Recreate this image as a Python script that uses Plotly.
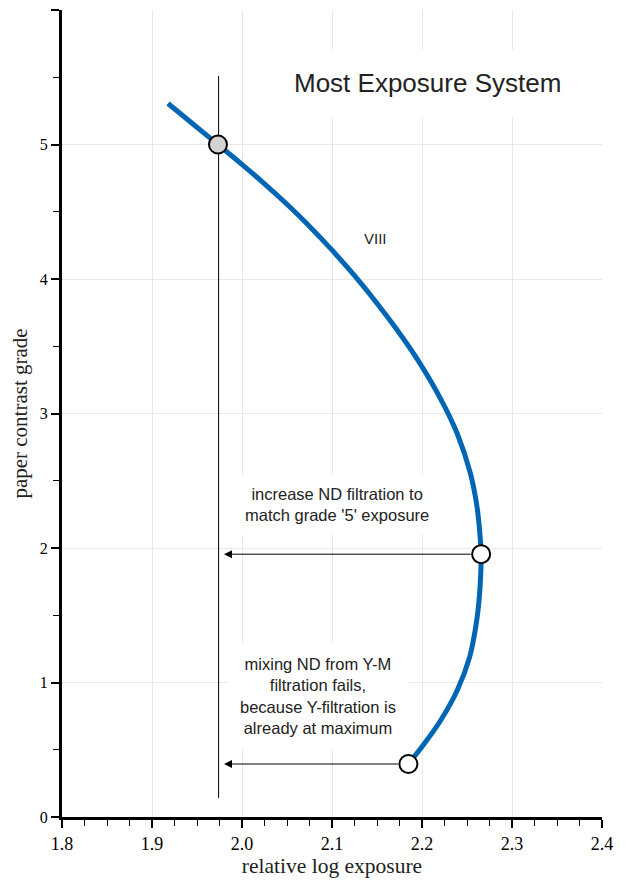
import plotly.graph_objects as go

# ---- data ----
curve_x = [1.9178, 1.9462, 1.9733, 2.0002, 2.0247, 2.0479, 2.0719, 2.0993, 2.1267, 2.1510,
           2.1718, 2.1956, 2.2198, 2.2390, 2.2537, 2.2612, 2.2649, 2.2657,
           2.2652, 2.2634, 2.2600, 2.2529, 2.2393, 2.2210, 2.2031, 2.1849]
curve_y = [5.305, 5.149, 5.000, 4.851, 4.710, 4.569, 4.413, 4.220, 4.012, 3.811,
           3.626, 3.395, 3.120, 2.853, 2.556, 2.303, 2.058, 1.954,
           1.798, 1.612, 1.426, 1.189, 0.944, 0.721, 0.550, 0.394]

ref_line_x = [1.974, 1.974]
ref_line_y = [0.14, 5.51]

grade5_point = (1.9733, 5.0)
open_points_x = [2.2657, 2.1849]
open_points_y = [1.954, 0.394]
arrow_tip_x = 1.98

x_ticks = [1.8, 1.9, 2.0, 2.1, 2.2, 2.3, 2.4]
x_tick_text = ["1.8", "1.9", "2.0", "2.1", "2.2", "2.3", "2.4"]
y_ticks = [0, 1, 2, 3, 4, 5, 6]
y_tick_text = ["0", "1", "2", "3", "4", "5", ""]

title_text = "Most Exposure System"
curve_label = "VIII"
note1 = "increase ND filtration to<br>match grade '5' exposure"
note2 = "mixing ND from Y-M<br>filtration fails,<br>because Y-filtration is<br>already at maximum"

fig = go.Figure()

fig.add_trace(go.Scatter(x=ref_line_x, y=ref_line_y, mode="lines",
                         line=dict(color="black", width=1), hoverinfo="skip", showlegend=False))
fig.add_trace(go.Scatter(x=curve_x, y=curve_y, mode="lines",
                         line=dict(color="#0066b3", width=5, shape="spline", smoothing=1.0),
                         showlegend=False))

# arrows
for ox, oy in zip(open_points_x, open_points_y):
    fig.add_annotation(x=arrow_tip_x, y=oy, ax=ox, ay=oy, xref="x", yref="y",
                       axref="x", ayref="y", showarrow=True, arrowhead=2, arrowsize=1.6,
                       arrowwidth=1, arrowcolor="black", text="", startstandoff=9)

fig.add_trace(go.Scatter(x=[grade5_point[0]], y=[grade5_point[1]], mode="markers",
                         marker=dict(size=18, color="#d3d3d3", line=dict(color="black", width=2)),
                         showlegend=False))
fig.add_trace(go.Scatter(x=open_points_x, y=open_points_y, mode="markers",
                         marker=dict(size=18, color="white", line=dict(color="black", width=2)),
                         showlegend=False))

sans = "Liberation Sans, Arial, sans-serif"
serif = "Liberation Serif, Times New Roman, serif"

fig.add_annotation(x=2.2056, y=5.46, xref="x", yref="y", text=title_text, showarrow=False,
                   font=dict(family=sans, size=26, color="#222"), bgcolor="white", borderpad=18)
fig.add_annotation(x=2.148, y=4.30, xref="x", yref="y", text=curve_label, showarrow=False,
                   font=dict(family=sans, size=15, color="#222"))
fig.add_annotation(x=2.1056, y=2.32, xref="x", yref="y", text=note1, showarrow=False,
                   font=dict(family=sans, size=16.5, color="#222"), bgcolor="white", borderpad=10)
fig.add_annotation(x=2.0844, y=0.90, xref="x", yref="y", text=note2, showarrow=False,
                   font=dict(family=sans, size=16.5, color="#222"), bgcolor="white", borderpad=12)

# the page body adds an 8px offset, so the figure is 8px smaller and margins shifted
fig.update_layout(
    width=618, height=878,
    margin=dict(l=54, r=24, t=2, b=69, autoexpand=False),
    plot_bgcolor="white", paper_bgcolor="white",
    showlegend=False,
    xaxis=dict(range=[1.8, 2.4], tickvals=x_ticks, ticktext=x_tick_text,
               showgrid=True, gridcolor="#e8e8e8", gridwidth=1, zeroline=False,
               showline=True, linecolor="black", linewidth=3,
               ticks="outside", ticklen=8, tickwidth=1.5, tickcolor="black",
               minor=dict(dtick=0.025, ticks="outside", ticklen=6, tickwidth=1, tickcolor="black", showgrid=False),
               tickfont=dict(family=serif, size=18, color="black"),
               title=dict(text="relative log exposure", font=dict(family=serif, size=21.5, color="#222"), standoff=6)),
    yaxis=dict(range=[0, 6], tickvals=y_ticks, ticktext=y_tick_text,
               showgrid=True, gridcolor="#e8e8e8", gridwidth=1, zeroline=False,
               showline=True, linecolor="black", linewidth=3,
               ticks="outside", ticklen=8, tickwidth=1.5, tickcolor="black",
               minor=dict(dtick=0.5, ticks="outside", ticklen=6, tickwidth=1, tickcolor="black", showgrid=False),
               tickfont=dict(family=serif, size=16, color="black"),
               title=dict(text="paper contrast grade", font=dict(family=serif, size=21, color="#222"), standoff=14)),
)

fig.write_html("out.html")
